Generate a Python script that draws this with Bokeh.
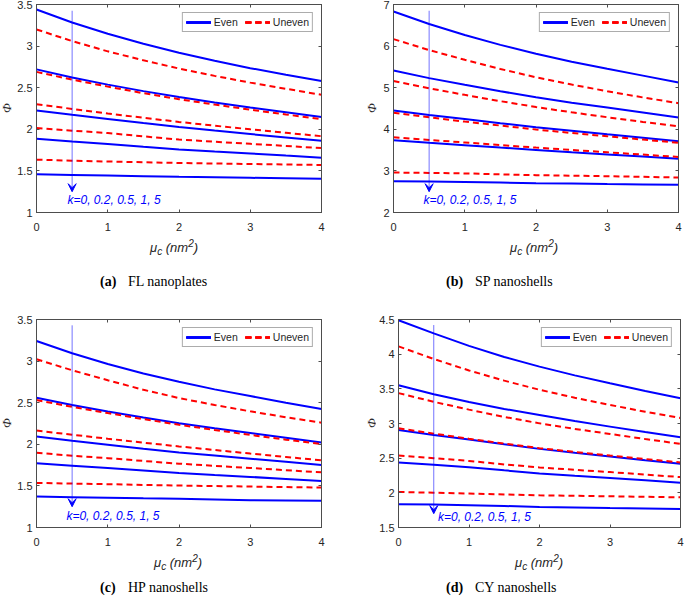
from bokeh.plotting import figure
from bokeh.layouts import column, row
from bokeh.models import (Range1d, FixedTicker, LinearAxis, Label, Arrow, VeeHead,
                          CustomJSTickFormatter, Div)
from bokeh.embed import file_html
from bokeh.resources import INLINE

# ---------------- data ----------------
mu_c = [0, 0.5, 1, 1.5, 2, 2.5, 3, 3.5, 4]
x_ticks = [0, 1, 2, 3, 4]
k_text = "k=0, 0.2, 0.5, 1, 5"

fl_even = [
    [3.44, 3.284, 3.148, 3.028, 2.92, 2.823, 2.735, 2.655, 2.58],
    [2.72, 2.622, 2.537, 2.459, 2.387, 2.322, 2.261, 2.204, 2.147],
    [2.226, 2.174, 2.125, 2.076, 2.029, 1.985, 1.943, 1.902, 1.861],
    [1.885, 1.853, 1.824, 1.79, 1.758, 1.733, 1.71, 1.684, 1.659],
    [1.46, 1.452, 1.445, 1.437, 1.429, 1.423, 1.417, 1.411, 1.405],
]
fl_uneven = [
    [3.20, 3.06, 2.937, 2.829, 2.73, 2.642, 2.561, 2.487, 2.415],
    [2.69, 2.597, 2.513, 2.434, 2.362, 2.297, 2.236, 2.178, 2.123],
    [2.302, 2.245, 2.191, 2.138, 2.089, 2.043, 2.0, 1.958, 1.917],
    [2.016, 1.984, 1.955, 1.915, 1.877, 1.85, 1.825, 1.80, 1.774],
    [1.635, 1.623, 1.613, 1.604, 1.595, 1.589, 1.583, 1.577, 1.571],
]
fl_yticks = [1, 1.5, 2, 2.5, 3, 3.5]

sp_even = [
    [6.833, 6.532, 6.265, 6.03, 5.817, 5.626, 5.455, 5.29, 5.125],
    [5.413, 5.23, 5.07, 4.915, 4.77, 4.64, 4.524, 4.405, 4.286],
    [4.452, 4.341, 4.245, 4.145, 4.05, 3.965, 3.88, 3.797, 3.714],
    [3.738, 3.676, 3.618, 3.56, 3.505, 3.45, 3.397, 3.345, 3.294],
    [2.754, 2.746, 2.735, 2.72, 2.706, 2.695, 2.683, 2.675, 2.667],
]
sp_uneven = [
    [6.167, 5.905, 5.67, 5.45, 5.25, 5.075, 4.915, 4.766, 4.627],
    [5.159, 4.985, 4.828, 4.676, 4.535, 4.408, 4.29, 4.178, 4.071],
    [4.397, 4.287, 4.185, 4.09, 3.995, 3.912, 3.832, 3.753, 3.675],
    [3.81, 3.745, 3.683, 3.622, 3.56, 3.504, 3.448, 3.392, 3.335],
    [2.96, 2.952, 2.94, 2.918, 2.897, 2.885, 2.873, 2.857, 2.841],
]
sp_yticks = [2, 3, 4, 5, 6, 7]

hp_even = [
    [3.241, 3.094, 2.966, 2.852, 2.751, 2.66, 2.58, 2.50, 2.425],
    [2.56, 2.472, 2.395, 2.322, 2.253, 2.193, 2.137, 2.08, 2.022],
    [2.094, 2.042, 1.995, 1.947, 1.902, 1.865, 1.827, 1.789, 1.751],
    [1.771, 1.743, 1.715, 1.685, 1.655, 1.631, 1.608, 1.584, 1.560],
    [1.373, 1.365, 1.358, 1.351, 1.345, 1.337, 1.329, 1.325, 1.321],
]
hp_uneven = [
    [3.022, 2.89, 2.77, 2.655, 2.556, 2.472, 2.396, 2.325, 2.26],
    [2.532, 2.45, 2.375, 2.303, 2.235, 2.172, 2.113, 2.056, 2.002],
    [2.165, 2.115, 2.067, 2.02, 1.974, 1.932, 1.889, 1.848, 1.807],
    [1.898, 1.863, 1.833, 1.80, 1.767, 1.741, 1.715, 1.689, 1.663],
    [1.536, 1.528, 1.521, 1.512, 1.504, 1.498, 1.492, 1.486, 1.48],
]
hp_yticks = [1, 1.5, 2, 2.5, 3, 3.5]

cy_even = [
    [4.49, 4.30, 4.12, 3.96, 3.82, 3.694, 3.58, 3.47, 3.365],
    [3.553, 3.423, 3.31, 3.21, 3.122, 3.035, 2.955, 2.876, 2.801],
    [2.907, 2.835, 2.77, 2.70, 2.634, 2.578, 2.524, 2.47, 2.419],
    [2.438, 2.404, 2.37, 2.324, 2.28, 2.246, 2.213, 2.18, 2.146],
    [1.835, 1.83, 1.822, 1.81, 1.797, 1.79, 1.782, 1.775, 1.768],
]
cy_uneven = [
    [4.112, 3.93, 3.765, 3.618, 3.486, 3.372, 3.268, 3.17, 3.079],
    [3.438, 3.313, 3.20, 3.095, 3.002, 2.922, 2.849, 2.776, 2.706],
    [2.931, 2.854, 2.78, 2.71, 2.644, 2.59, 2.538, 2.488, 2.438],
    [2.538, 2.50, 2.46, 2.41, 2.366, 2.332, 2.299, 2.263, 2.227],
    [2.012, 2.002, 1.99, 1.977, 1.964, 1.957, 1.95, 1.943, 1.935],
]
cy_yticks = [1.5, 2, 2.5, 3, 3.5, 4, 4.5]

# ---------------- style ----------------
FH = 208
AX = "#4d4d4d"
TXT = "#262626"
BLUE = "#0000ff"
RED = "#ff0000"


def style_axis(ax, standoff, fsize="11px"):
    ax.major_tick_in = 3
    ax.major_tick_out = 0
    ax.minor_tick_line_color = None
    ax.axis_line_color = AX
    ax.major_tick_line_color = AX
    ax.major_label_text_font = "Liberation Sans"
    ax.major_label_text_font_size = fsize
    ax.major_label_text_color = TXT
    ax.major_label_standoff = standoff


def cell(even, uneven, yr, yticks, arrow_y, k_pos, tag, name,
         phi_w, phi_x, fig_w, borders, xl_x, tag_x, name_x, div_h, xlab_y, cap_y):
    y0, y1 = yr
    bl, br, bt, bb = borders
    fig_h = bt + FH + bb
    p = figure(width=fig_w, height=fig_h,
               x_range=Range1d(0, 4), y_range=Range1d(y0, y1),
               output_backend="svg", toolbar_location=None,
               min_border_left=bl, min_border_right=br,
               min_border_top=bt, min_border_bottom=bb)
    p.outline_line_color = AX
    p.xgrid.visible = False
    p.ygrid.visible = False

    fmt = CustomJSTickFormatter(code="return String(Math.round(tick*100)/100);")
    xa = p.xaxis[0]
    xa.ticker = FixedTicker(ticks=x_ticks)
    style_axis(xa, 10)
    ya = p.yaxis[0]
    ya.ticker = FixedTicker(ticks=yticks)
    ya.formatter = fmt
    style_axis(ya, 4)

    empty = CustomJSTickFormatter(code="return '';")
    top = LinearAxis(ticker=FixedTicker(ticks=x_ticks), formatter=empty)
    style_axis(top, 0, "0px")
    p.add_layout(top, "above")
    right = LinearAxis(ticker=FixedTicker(ticks=yticks), formatter=empty)
    style_axis(right, 0, "0px")
    p.add_layout(right, "right")

    for vals in even:
        p.line(mu_c, vals, line_color=BLUE, line_width=2, legend_label="Even")
    for vals in uneven:
        p.line(mu_c, vals, line_color=RED, line_width=2, line_dash="6 4",
               legend_label="Uneven")

    lg = p.legend[0]
    lg.orientation = "horizontal"
    lg.location = "top_right"
    lg.label_text_font = "Liberation Sans"
    lg.label_text_font_size = "10.5px"
    lg.label_text_color = TXT
    lg.glyph_width = 25
    lg.glyph_height = 10
    lg.label_height = 10
    lg.label_standoff = 3
    lg.spacing = 7
    lg.padding = 3
    lg.margin = 8
    lg.border_line_color = "#5a5a5a"
    lg.border_line_width = 1
    lg.background_fill_alpha = 1.0

    p.add_layout(Arrow(end=VeeHead(size=8, fill_color=BLUE, line_color=BLUE, line_width=1),
                       x_start=0.5, y_start=arrow_y[0], x_end=0.5, y_end=arrow_y[1],
                       line_color=BLUE, line_alpha=0.55, line_width=1))
    p.add_layout(Label(x=k_pos[0], y=k_pos[1], text=k_text,
                       text_font="Liberation Sans", text_font_style="italic",
                       text_font_size="12px", text_color=BLUE, text_baseline="middle"))

    # rotated y-axis label
    phi_html = (
        f'<div style="position:relative;width:{phi_w}px;height:{fig_h}px;">'
        f'<span style="position:absolute;left:{phi_x}px;top:{bt + FH // 2}px;'
        f'display:inline-block;transform:translate(-50%,-50%) rotate(-90deg);'
        f'font-family:\'Liberation Serif\';font-style:italic;font-size:13px;'
        f'line-height:14px;color:{TXT};white-space:nowrap;">Φ</span></div>'
    )
    phi = Div(text=phi_html, width=phi_w, height=fig_h, margin=(0, 0, 0, 0))

    width = phi_w + fig_w
    html = (
        f'<div style="position:relative;width:{width}px;height:{div_h}px;">'
        f'<span style="position:absolute;left:{xl_x}px;top:{xlab_y - 8}px;'
        f'font-family:\'Liberation Sans\';font-style:italic;font-size:13px;'
        f'line-height:16px;color:{TXT};white-space:nowrap;">'
        f'μ<span style="font-size:10px;position:relative;top:3px;">c</span> '
        f'(nm<span style="font-size:10px;position:relative;top:-5px;">2</span>)</span>'
        f'<span style="position:absolute;left:{tag_x}px;top:{cap_y - 8}px;'
        f'font-family:\'Liberation Serif\';font-weight:bold;font-size:14px;'
        f'line-height:16px;color:black;white-space:nowrap;">{tag}</span>'
        f'<span style="position:absolute;left:{name_x}px;top:{cap_y - 8}px;'
        f'font-family:\'Liberation Serif\';font-size:14px;'
        f'line-height:16px;color:black;white-space:nowrap;">{name}</span>'
        f'</div>'
    )
    d = Div(text=html, width=width, height=div_h, margin=(0, 0, 0, 0))
    return column(row(phi, p, spacing=0), d, spacing=0)


ca = cell(fl_even, fl_uneven, (1, 3.5), fl_yticks, (3.425, 1.25), (0.435, 1.15),
          "(a)", "FL nanoplates", 14, 7, 347, (22, 40, 4, 22),
          150, 100, 128, 62, 14, 48)
cb = cell(sp_even, sp_uneven, (2, 7), sp_yticks, (6.85, 2.5), (0.42, 2.29),
          "(b)", "SP nanoshells", 18, 11, 305, (14, 6, 4, 22),
          149, 85, 114, 62, 14, 48)
cc = cell(hp_even, hp_uneven, (1, 3.5), hp_yticks, (3.43, 1.25), (0.42, 1.14),
          "(c)", "HP nanoshells", 14, 7, 347, (22, 40, 23, 22),
          154, 100, 128, 46, 14, 39)
cd = cell(cy_even, cy_uneven, (1.5, 4.5), cy_yticks, (4.42, 1.70), (0.56, 1.65),
          "(d)", "CY nanoshells", 14, 11, 309, (23, 4, 23, 22),
          154, 85, 114, 46, 14, 39)

layout = column(row(ca, cb, spacing=0), row(cc, cd, spacing=0), spacing=0)
open("out.html", "w").write(file_html(layout, INLINE))
